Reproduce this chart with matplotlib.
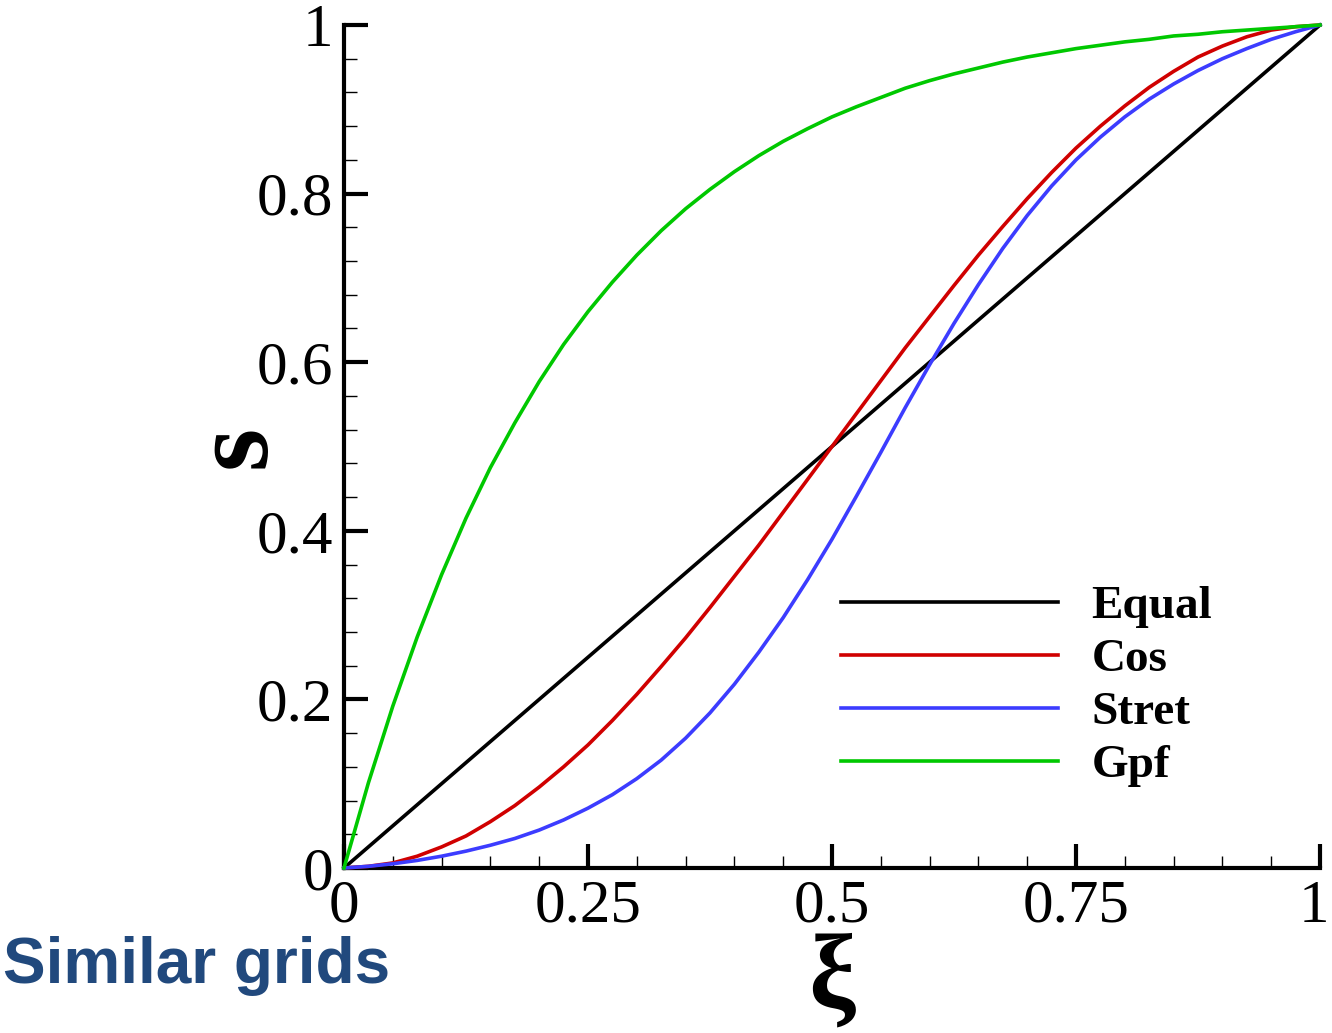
import numpy as np
from matplotlib import pyplot as plt
from matplotlib import transforms

# parametric coordinate xi (read every 0.025)
xi = [0.0, 0.025, 0.05, 0.075, 0.1, 0.125, 0.15, 0.175, 0.2, 0.225,
      0.25, 0.275, 0.3, 0.325, 0.35, 0.375, 0.4, 0.425, 0.45, 0.475,
      0.5, 0.525, 0.55, 0.575, 0.6, 0.625, 0.65, 0.675, 0.7, 0.725,
      0.75, 0.775, 0.8, 0.825, 0.85, 0.875, 0.9, 0.925, 0.95, 0.975, 1.0]

s_equal = list(xi)

s_cos = [0.0, 0.002, 0.006, 0.014, 0.025, 0.038, 0.055, 0.074, 0.096, 0.120,
         0.146, 0.175, 0.206, 0.239, 0.273, 0.309, 0.346, 0.383, 0.422, 0.461,
         0.500, 0.539, 0.578, 0.617, 0.654, 0.691, 0.727, 0.761, 0.794, 0.825,
         0.854, 0.880, 0.904, 0.926, 0.945, 0.962, 0.975, 0.986, 0.994, 0.998, 1.0]

s_stret = [0.0, 0.002, 0.005, 0.009, 0.014, 0.020, 0.027, 0.035, 0.045, 0.057,
           0.071, 0.087, 0.106, 0.128, 0.154, 0.184, 0.218, 0.256, 0.297, 0.342,
           0.390, 0.441, 0.493, 0.546, 0.597, 0.646, 0.692, 0.735, 0.774, 0.809,
           0.840, 0.867, 0.891, 0.912, 0.930, 0.946, 0.960, 0.972, 0.983, 0.992, 1.0]

s_gpf = [0.0, 0.101, 0.192, 0.274, 0.348, 0.415, 0.475, 0.528, 0.577, 0.621,
         0.660, 0.695, 0.727, 0.756, 0.782, 0.805, 0.826, 0.845, 0.862, 0.877,
         0.891, 0.903, 0.914, 0.925, 0.934, 0.942, 0.949, 0.956, 0.962, 0.967,
         0.972, 0.976, 0.980, 0.983, 0.987, 0.989, 0.992, 0.994, 0.996, 0.998, 1.0]

labels = ['Equal', 'Cos', 'Stret', 'Gpf']
colors = ['#000000', '#D00000', '#3C3CFF', '#00C800']

x_ticks = [0, 0.25, 0.5, 0.75, 1]
x_ticklabels = ['0', '0.25', '0.5', '0.75', '1']
y_ticks = [0, 0.2, 0.4, 0.6, 0.8, 1]
y_ticklabels = ['0', '0.2', '0.4', '0.6', '0.8', '1']

plt.rcParams['font.family'] = ['Liberation Serif', 'DejaVu Serif']

fig = plt.figure(figsize=(13.32, 10.33), dpi=100)
ax = fig.add_axes([344/1332, 1 - 868/1033, (1320-344)/1332, (868-25)/1033])

for ys, lab, c in zip([s_equal, s_cos, s_stret, s_gpf], labels, colors):
    ax.plot(xi, ys, color=c, linewidth=2.6, label=lab, clip_on=False, zorder=3)

ax.set_xlim(0, 1)
ax.set_ylim(0, 1)

# only left and bottom axis lines
ax.spines['top'].set_visible(False)
ax.spines['right'].set_visible(False)
ax.spines['left'].set_linewidth(3)
ax.spines['bottom'].set_linewidth(3)

ax.set_xticks(x_ticks)
ax.set_xticklabels(x_ticklabels)
ax.set_yticks(y_ticks)
ax.set_yticklabels(y_ticklabels)
ax.set_xticks(np.arange(0, 1.001, 0.05), minor=True)
ax.set_yticks(np.arange(0, 1.001, 0.04), minor=True)

ax.tick_params(which='major', direction='in', length=17, width=3, labelsize=44, pad=8)
ax.tick_params(which='minor', direction='in', length=9, width=1)

# keep the last x label inside the figure
last = ax.get_xticklabels()[-1]
last.set_transform(last.get_transform() + transforms.ScaledTranslation(-6/100, 0, fig.dpi_scale_trans))

ax.set_xlabel('ξ', fontsize=76, fontweight='bold')
ax.xaxis.set_label_coords(0.5, -0.076)
ax.set_ylabel('s', fontsize=80, fontweight='bold')
ax.yaxis.set_label_coords(-0.058, 0.5)

leg = ax.legend(loc='upper left', bbox_to_anchor=(0.49, 0.358), frameon=False,
                prop={'size': 34, 'weight': 'bold'}, handlelength=4.6,
                handletextpad=0.7, labelspacing=0.21, borderaxespad=0)

fig.text(0.002, 1 - 983/1033, 'Similar grids', fontsize=46, fontweight='bold',
         color='#21497D', family='Liberation Sans', ha='left', va='baseline')

fig.savefig('out.png', dpi=100)
